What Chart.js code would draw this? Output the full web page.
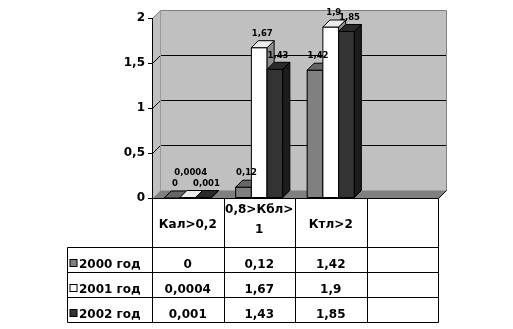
<!DOCTYPE html>
<html>
<head>
<meta charset="utf-8">
<script src="https://cdn.jsdelivr.net/npm/chart.js@4.4.1/dist/chart.umd.min.js"></script>
<style>
  html, body { margin: 0; padding: 0; background: #ffffff; }
  #wrap { width: 513px; height: 329px; position: relative; }
</style>
</head>
<body>
<div id="wrap"><canvas id="c" width="513" height="329"></canvas></div>
<script>
// ---- data ----
const categories = [['Кал>0,2'], ['0,8>Кбл>', '1'], ['Ктл>2'], ['']];
const seriesNames = ['2000 год', '2001 год', '2002 год'];
const values2000 = [0, 0.12, 1.42, null];
const values2001 = [0.0004, 1.67, 1.9, null];
const values2002 = [0.001, 1.43, 1.85, null];
const yMin = 0;
const yMax = 2;
const yStep = 0.5;

// ---- style ----
const FONT = '"DejaVu Sans", Verdana, sans-serif';
const frontColors = ['#808080', '#ffffff', '#333333'];
const topColors = ['#666666', '#ececec', '#2a2a2a'];
const sideColors = ['#5a5a5a', '#8c8c8c', '#1c1c1c'];
const WALL_DX = 8, WALL_DY = 8, BAR_DX = 7, BAR_DY = 7;
const TABLE_LEFT = 67.5, HEADER_H = 49, ROW_H = 25;

const fmt = v => String(v).replace('.', ',');

function poly(ctx, pts, fill, stroke) {
  ctx.beginPath();
  ctx.moveTo(pts[0][0], pts[0][1]);
  for (let i = 1; i < pts.length; i++) ctx.lineTo(pts[i][0], pts[i][1]);
  ctx.closePath();
  if (fill) { ctx.fillStyle = fill; ctx.fill(); }
  if (stroke) { ctx.strokeStyle = stroke; ctx.lineWidth = 1; ctx.stroke(); }
}
function line(ctx, pts, color) {
  ctx.beginPath();
  ctx.moveTo(pts[0][0], pts[0][1]);
  for (let i = 1; i < pts.length; i++) ctx.lineTo(pts[i][0], pts[i][1]);
  ctx.strokeStyle = color; ctx.lineWidth = 1; ctx.stroke();
}

const scene3d = {
  id: 'scene3d',
  beforeDraw(chart) {
    const ctx = chart.ctx;
    const a = chart.chartArea;
    const ys = chart.scales.y;
    const L = Math.round(a.left) + 0.5, R = Math.round(a.right) + 0.5;
    const T = Math.round(a.top) + 0.5, B = Math.round(a.bottom) + 0.5;
    ctx.save();
    // back + side wall
    poly(ctx, [[L, B], [L, T], [L + WALL_DX, T - WALL_DY], [R + WALL_DX, T - WALL_DY], [R + WALL_DX, B - WALL_DY], [R, B]], '#c0c0c0');
    // gridlines on wall
    ys.ticks.forEach(t => {
      if (t.value === yMin) return;
      const yy = Math.round(ys.getPixelForValue(t.value)) + 0.5;
      const col = t.value === yMax ? '#808080' : '#000000';
      line(ctx, [[L, yy], [L + WALL_DX, yy - WALL_DY], [R + WALL_DX, yy - WALL_DY]], col);
    });
    line(ctx, [[L + WALL_DX, T - WALL_DY], [L + WALL_DX, B - WALL_DY]], '#9a9a9a');
    line(ctx, [[R + WALL_DX, T - WALL_DY], [R + WALL_DX, B - WALL_DY]], '#808080');
    // floor
    poly(ctx, [[L, B], [R, B], [R + WALL_DX, B - WALL_DY], [L + WALL_DX, B - WALL_DY]], '#808080');
    line(ctx, [[L, B], [R, B], [R + WALL_DX, B - WALL_DY]], '#000000');
    ctx.restore();
  },
  afterDatasetsDraw(chart) {
    const ctx = chart.ctx;
    ctx.save();
    const n = chart.data.labels.length;
    const metas = chart.data.datasets.map((d, i) => chart.getDatasetMeta(i));
    const labels = [];
    for (let i = 0; i < n; i++) {
      metas.forEach((meta, d) => {
        const v = chart.data.datasets[d].data[i];
        if (v === null || v === undefined) return;
        const el = meta.data[i];
        const p = el.getProps(['x', 'y', 'base', 'width'], true);
        const l = p.x - p.width / 2, r = p.x + p.width / 2;
        const t = Math.min(p.y, p.base), b = Math.max(p.y, p.base);
        if (b - t > 0.5) poly(ctx, [[l, t], [r, t], [r, b], [l, b]], frontColors[d], '#000');
        poly(ctx, [[r, t], [r + BAR_DX, t - BAR_DY], [r + BAR_DX, b - BAR_DY], [r, b]], sideColors[d], '#000');
        poly(ctx, [[l, t], [r, t], [r + BAR_DX, t - BAR_DY], [l + BAR_DX, t - BAR_DY]], topColors[d], '#000');
        labels.push({ text: fmt(v), x: p.x + 3, y: t - 14 });
      });
    }
    ctx.font = 'bold 8.5px ' + FONT;
    ctx.fillStyle = '#000';
    ctx.textAlign = 'center';
    ctx.textBaseline = 'middle';
    // simple overlap avoidance: lift a label if it collides with an already placed one
    const placed = [];
    const H = 8;
    labels.forEach(lb => {
      const w = ctx.measureText(lb.text).width;
      let y = lb.y;
      let moved = true;
      while (moved) {
        moved = false;
        for (const q of placed) {
          const ox = Math.min(lb.x + w / 2, q.x + q.w / 2) - Math.max(lb.x - w / 2, q.x - q.w / 2);
          const oy = Math.min(y + H / 2, q.y + H / 2) - Math.max(y - H / 2, q.y - H / 2);
          if (ox > 3 && oy > 0) { y = q.y - 11; moved = true; }
        }
      }
      placed.push({ x: lb.x, y, w });
      ctx.fillText(lb.text, lb.x, y);
    });
    ctx.restore();
  },
  afterDraw(chart) {
    const ctx = chart.ctx;
    const xs = chart.scales.x;
    const a = chart.chartArea;
    const n = chart.data.labels.length;
    const colW = (xs.right - xs.left) / n;
    const top = Math.round(a.bottom) + 0.5;
    const rowsTop = top + HEADER_H;
    const nRows = chart.data.datasets.length;
    const bottom = rowsTop + nRows * ROW_H;
    ctx.save();
    // vertical lines of columns
    for (let i = 0; i <= n; i++) {
      const xx = Math.round(xs.left + i * colW) + 0.5;
      line(ctx, [[xx, top], [xx, bottom]], '#000');
    }
    // legend column
    line(ctx, [[TABLE_LEFT, rowsTop], [TABLE_LEFT, bottom]], '#000');
    for (let r = 0; r <= nRows; r++) {
      const yy = rowsTop + r * ROW_H;
      line(ctx, [[TABLE_LEFT, yy], [Math.round(xs.right) + 0.5, yy]], '#000');
    }
    ctx.font = 'bold 12px ' + FONT;
    ctx.fillStyle = '#000';
    ctx.textBaseline = 'alphabetic';
    // header (category labels)
    ctx.textAlign = 'center';
    chart.data.labels.forEach((lab, i) => {
      const lines = Array.isArray(lab) ? lab : [lab];
      const cx = xs.getPixelForValue(i);
      lines.forEach((s, k) => {
        ctx.fillText(s, cx, top + 29 - (lines.length - 1) * 15 + k * 20);
      });
    });
    // rows
    chart.data.datasets.forEach((ds, r) => {
      const base = rowsTop + r * ROW_H + 20;
      ctx.fillStyle = frontColors[r];
      ctx.fillRect(TABLE_LEFT + 2.5, base - 8, 7, 7);
      ctx.strokeStyle = '#000';
      ctx.lineWidth = 1;
      ctx.strokeRect(TABLE_LEFT + 2.5, base - 8, 7, 7);
      ctx.fillStyle = '#000';
      ctx.textAlign = 'left';
      ctx.fillText(ds.label, TABLE_LEFT + 11.5, base);
      ctx.textAlign = 'center';
      ds.data.forEach((v, i) => {
        if (v === null || v === undefined) return;
        ctx.fillText(fmt(v), xs.getPixelForValue(i), base);
      });
    });
    ctx.restore();
  }
};

const seriesValues = [values2000, values2001, values2002];

new Chart(document.getElementById('c'), {
  type: 'bar',
  data: {
    labels: categories,
    datasets: seriesNames.map((name, i) => ({
      label: name,
      data: seriesValues[i],
      backgroundColor: frontColors[i],
      borderColor: '#000',
      borderWidth: 1,
      categoryPercentage: 0.66,
      barPercentage: 1.0
    }))
  },
  options: {
    responsive: false,
    animation: false,
    devicePixelRatio: 1,
    layout: { padding: { left: 0, top: 18, right: 75, bottom: 131 } },
    plugins: { legend: { display: false }, tooltip: { enabled: false } },
    scales: {
      x: { display: false },
      y: {
        min: yMin, max: yMax,
        afterFit(scale) { scale.width = 152; },
        ticks: {
          stepSize: yStep,
          padding: 3,
          color: '#000',
          font: { family: FONT, size: 12, weight: 'bold' },
          callback: v => fmt(v)
        },
        grid: { display: true, drawOnChartArea: false, drawTicks: true, tickLength: 4, color: '#000' },
        border: { display: true, color: '#000', width: 1 }
      }
    }
  },
  plugins: [scene3d]
});
</script>
</body>
</html>
